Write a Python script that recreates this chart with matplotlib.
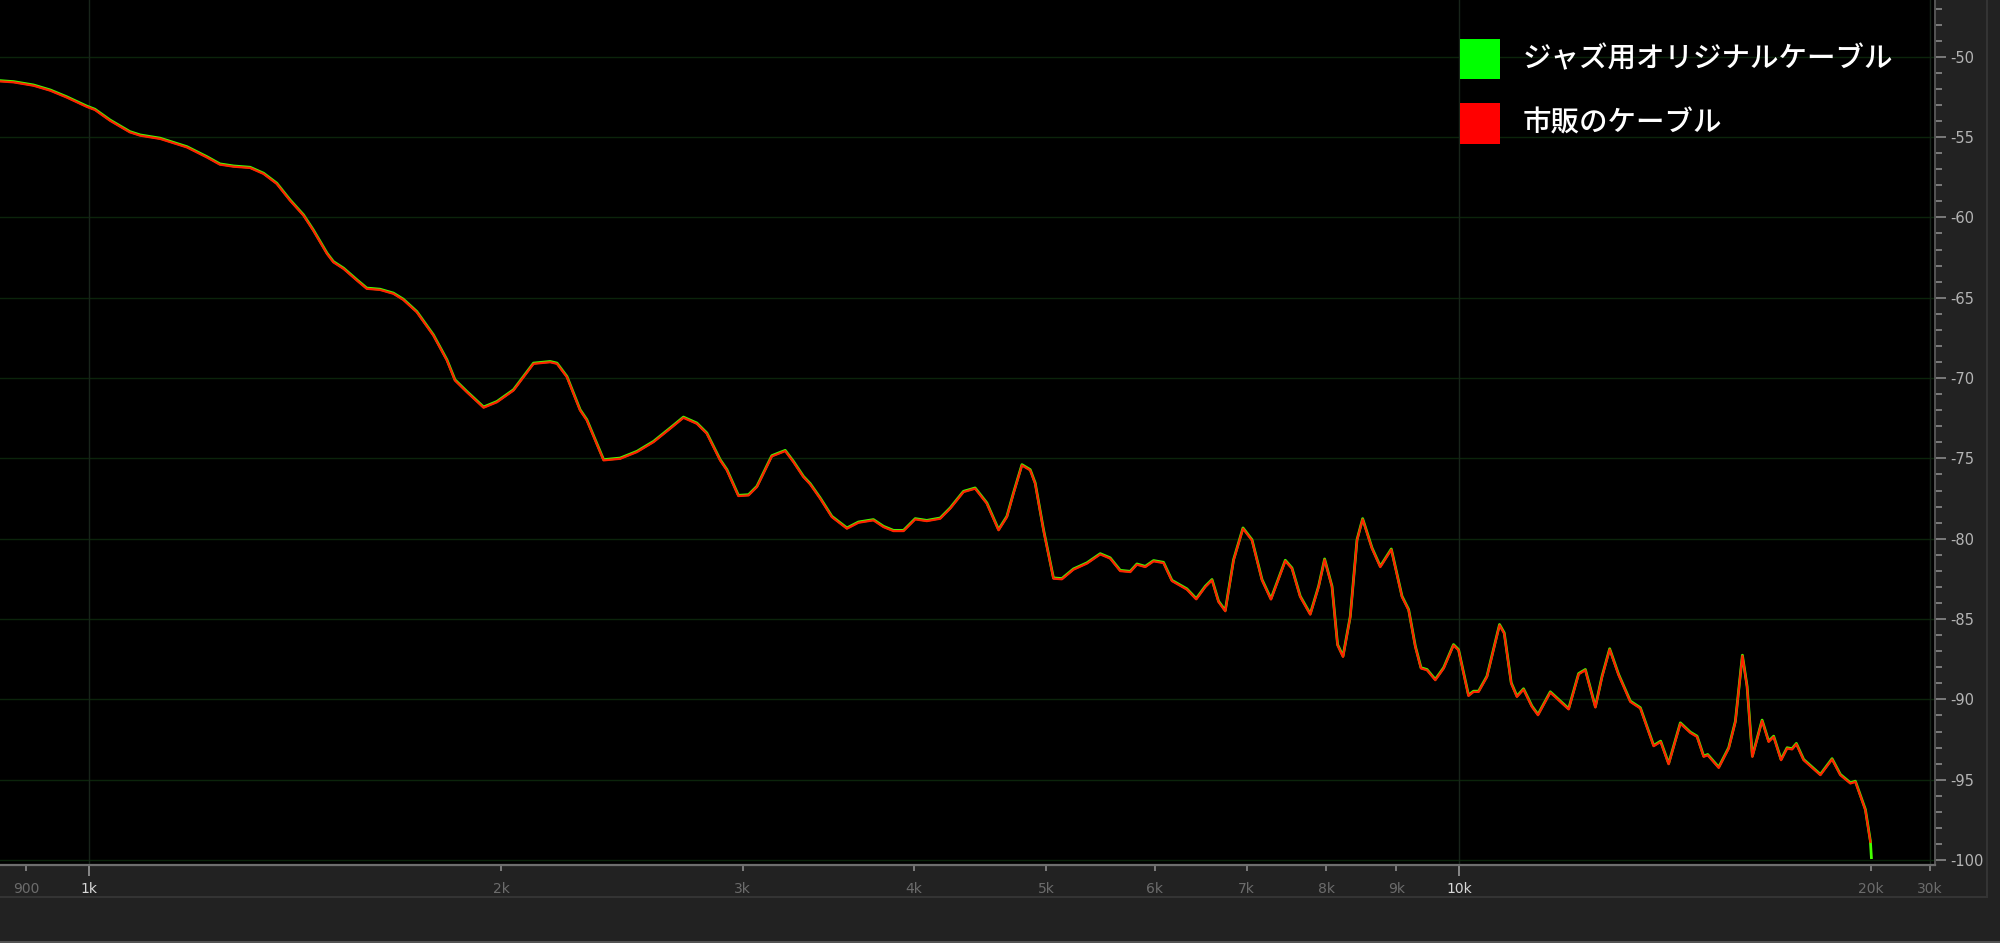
import numpy as np
import matplotlib
matplotlib.use("Agg")
import matplotlib.pyplot as plt
from matplotlib import font_manager
from matplotlib.patches import Rectangle
from matplotlib.lines import Line2D
from matplotlib.transforms import offset_copy

# frequency (Hz) / level (dB)
freq = [861, 881, 911, 937, 963, 996, 1010, 1036, 1071, 1090, 1127, 1179, 1219, 1246,
        1275, 1311, 1341, 1371, 1402, 1434, 1458, 1492, 1508, 1534, 1569, 1595, 1631,
        1668, 1696, 1735, 1784, 1825, 1850, 1887, 1941, 1985, 2041, 2111, 2171, 2196,
        2233, 2283, 2309, 2375, 2442, 2512, 2583, 2656, 2716, 2778, 2825, 2889, 2922,
        2979, 3030, 3073, 3151, 3223, 3268, 3323, 3361, 3418, 3486, 3575, 3645, 3738,
        3802, 3866, 3932, 4010, 4089, 4182, 4253, 4349, 4435, 4523, 4613, 4678, 4730,
        4798, 4865, 4906, 4975, 5059, 5131, 5232, 5352, 5473, 5565, 5660, 5756, 5821,
        5903, 5986, 6087, 6174, 6331, 6431, 6530, 6604, 6677, 6753, 6848, 6957, 7063,
        7183, 7292, 7470, 7554, 7660, 7790, 7900, 7980, 8080, 8156, 8231, 8332, 8427,
        8507, 8642, 8763, 8927, 9089, 9191, 9295, 9384, 9479, 9612, 9748, 9911, 9995,
        10164, 10250, 10337, 10484, 10708, 10793, 10921, 11026, 11149, 11308, 11423,
        11662, 11826, 12027, 12231, 12370, 12580, 12722, 12886, 13082, 13342, 13568,
        13875, 14039, 14229, 14512, 14758, 14925, 15092, 15194, 15478, 15740, 15918,
        16107, 16234, 16379, 16649, 16834, 16976, 17189, 17363, 17509, 17636, 17854,
        18363, 18727, 18990, 19313, 19476, 19806, 19973]
commercial_db = [-51.49, -51.55, -51.76, -52.07, -52.49, -53.07, -53.27, -53.94, -54.66,
                 -54.87, -55.07, -55.60, -56.22, -56.67, -56.80, -56.88, -57.25, -57.87,
                 -58.91, -59.84, -60.78, -62.23, -62.75, -63.16, -63.89, -64.40, -64.47,
                 -64.71, -65.09, -65.86, -67.31, -68.86, -70.11, -70.83, -71.80, -71.46,
                 -70.73, -69.07, -68.97, -69.07, -69.90, -71.97, -72.59, -75.08, -74.98,
                 -74.56, -73.94, -73.11, -72.43, -72.80, -73.42, -75.08, -75.70, -77.30,
                 -77.26, -76.74, -74.83, -74.50, -75.19, -76.12, -76.57, -77.46, -78.61,
                 -79.33, -78.96, -78.81, -79.23, -79.48, -79.48, -78.75, -78.86, -78.71,
                 -78.08, -77.05, -76.84, -77.77, -79.43, -78.61, -77.15, -75.39, -75.70,
                 -76.53, -79.43, -82.44, -82.48, -81.88, -81.50, -80.93, -81.19, -81.97,
                 -82.03, -81.57, -81.72, -81.36, -81.47, -82.59, -83.12, -83.73, -82.96,
                 -82.54, -83.89, -84.47, -81.30, -79.33, -80.06, -82.54, -83.74, -81.34,
                 -81.82, -83.58, -84.68, -82.96, -81.26, -82.96, -86.59, -87.31, -84.83,
                 -80.06, -78.75, -80.57, -81.72, -80.64, -83.58, -84.41, -86.69, -88.03,
                 -88.14, -88.76, -88.03, -86.59, -86.90, -89.74, -89.49, -89.49, -88.56,
                 -85.34, -85.86, -88.97, -89.80, -89.34, -90.42, -90.94, -89.53, -90.01,
                 -90.58, -88.39, -88.14, -90.46, -88.56, -86.85, -88.45, -90.11, -90.52,
                 -92.87, -92.60, -93.99, -91.46, -92.04, -92.29, -93.53, -93.43, -94.22,
                 -93.01, -91.36, -87.25, -89.18, -93.53, -91.29, -92.60, -92.29, -93.74,
                 -93.01, -93.07, -92.74, -93.74, -94.67, -93.69, -94.67, -95.19, -95.09,
                 -96.85, -98.82]
# the green trace is the same as the red one except it runs on to the floor
jazz_freq = freq + [20030]
jazz_db = commercial_db + [-99.85]

series_names = ["ジャズ用オリジナルケーブル", "市販のケーブル"]
series_colors = ["#00ff00", "#ff0000"]
line_colors = ["#44ff00", "#ff2200"]

x_major = [1000, 10000]
x_major_labels = ["1k", "10k"]
x_minor = [900, 2000, 3000, 4000, 5000, 6000, 7000, 8000, 9000, 20000, 30000]
x_minor_labels = ["900", "2k", "3k", "4k", "5k", "6k", "7k", "8k", "9k", "20k", "30k"]
x_grid = [1000, 10000, 30000]
y_major = list(range(-100, -45, 5))
y_minor = list(range(-100, -46))

names = {f.name for f in font_manager.fontManager.ttflist}
tick_font = "Liberation Sans Narrow" if "Liberation Sans Narrow" in names else "DejaVu Sans"

# log axis up to 20k, squashed above it like the analyser does
L20 = np.log10(20000)
K = 0.243


def fwd(f):
    l = np.log10(np.clip(np.asarray(f, dtype=float), 1, None))
    return np.where(l > L20, L20 + (l - L20) * K, l)


def inv(v):
    v = np.asarray(v, dtype=float)
    return np.where(v > L20, 10 ** (L20 + (v - L20) / K), 10 ** v)


W, H = 2000, 943
fig = plt.figure(figsize=(W / 100, H / 100), dpi=100, facecolor="#222222")
ax = fig.add_axes([0, 0.0832, 0.9675, 0.9168])
ax.set_facecolor("black")
ax.set_xscale("function", functions=(fwd, inv))
ax.set_xlim(861, 31100)
ax.set_ylim(-100.28, -46.47)

for v in y_major:
    ax.axhline(v, color="#0b240b", lw=1.0, zorder=0)
for v in x_grid:
    ax.axvline(v, color="#18241a", lw=1.0, zorder=0)

ax.plot(jazz_freq, jazz_db, color=line_colors[0], lw=2.0, zorder=2)
red_tr = offset_copy(ax.transData, fig=fig, x=0, y=-0.7, units="dots")
ax.plot(freq, commercial_db, color=line_colors[1], lw=1.6, zorder=3, transform=red_tr)

# ticks
ax.set_xticks(x_major, x_major_labels)
ax.set_xticks(x_minor, x_minor_labels, minor=True)
ax.tick_params(axis="x", which="major", direction="out", length=7.7, width=1.2,
               color="#9a9a9a", pad=5, labelsize=10, labelcolor="#d8d8d8")
ax.tick_params(axis="x", which="minor", direction="out", length=4.6, width=1.2,
               color="#8a8a8a", pad=8.1, labelsize=10, labelcolor="#6c6c6c")
ax.yaxis.tick_right()
ax.set_yticks(y_major, [str(v) for v in y_major])
ax.set_yticks(y_minor, minor=True)
ax.tick_params(axis="y", which="major", direction="out", length=7.7, width=1.2,
               color="#8a8a8a", pad=3.6, labelsize=10.5, labelcolor="#b4b4b4")
ax.tick_params(axis="y", which="minor", direction="out", length=5, width=1.2,
               color="#8a8a8a")
for lab in ax.get_xticklabels(which="both") + ax.get_yticklabels():
    lab.set_fontfamily(tick_font)

for side in ["top", "left"]:
    ax.spines[side].set_visible(False)
ax.spines["bottom"].set_color("#6e6e6e")
ax.spines["bottom"].set_linewidth(1.6)
ax.spines["right"].set_color("#555555")
ax.spines["right"].set_linewidth(1.4)

# panel divider lines of the analyser window
fig.add_artist(Line2D([0, 1987 / W], [1 - 897 / H] * 2, color="#353535", lw=1.4,
                      transform=fig.transFigure))
fig.add_artist(Line2D([1987 / W] * 2, [1 - 897 / H, 1], color="#353535", lw=1.4,
                      transform=fig.transFigure))
fig.add_artist(Line2D([0, 1], [1.5 / H] * 2, color="#555555", lw=1.4,
                      transform=fig.transFigure))

# key: coloured squares with the cable names next to them
for i, (name, col) in enumerate(zip(series_names, series_colors)):
    top = 39 + i * 64.5
    fig.add_artist(Rectangle((1460 / W, 1 - (top + 40) / H), 40 / W, 40 / H,
                             facecolor=col, edgecolor="none", transform=fig.transFigure))
    fig.text(1523 / W, 1 - (top + 20) / H, name, color="white", fontsize=20.5,
             fontweight="medium", va="center", ha="left",
             family=["Noto Sans CJK JP", "DejaVu Sans"])

fig.savefig("out.png", dpi=100, facecolor=fig.get_facecolor())
